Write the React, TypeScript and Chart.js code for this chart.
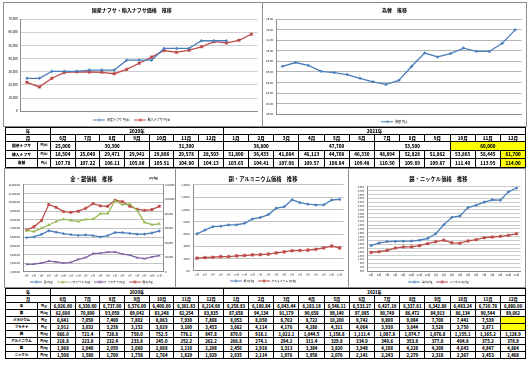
import React, { useEffect, useRef } from 'react';
import { Chart, registerables } from 'chart.js';

Chart.register(...registerables);

const FONT = '"Noto Sans CJK JP", "Noto Sans", sans-serif';

// ---------------- data ----------------
const chartMonths = ['5月', '6月', '7月', '8月', '9月', '10月', '11月', '12月', '1月', '2月', '3月', '4月', '5月', '6月', '7月', '8月', '9月', '10月', '11月'];
const tableMonths2020 = ['6月', '7月', '8月', '9月', '10月', '11月', '12月'];
const tableMonths2021 = ['1月', '2月', '3月', '4月', '5月', '6月', '7月', '8月', '9月', '10月', '11月', '12月'];
const yearLabels = ['2020年', '2021年'];

// chart series (5月 2020 - 11月 2021)
const domesticNaphthaChart = [25000, 25000, 30300, 30300, 30300, 31300, 31300, 31300, 38800, 38800, 38800, 47700, 47700, 47700, 53500, 53500, 53500, null, null];
const importedNaphthaChart = [22000, 18504, 25040, 29471, 29941, 29808, 29578, 28503, 31800, 36433, 41084, 46113, 44708, 46330, 48894, 52828, 51862, 53865, 58445];
const exchangeChart = [107.06, 107.78, 107.22, 106.11, 105.88, 105.51, 104.8, 104.13, 103.65, 104.41, 107.08, 109.57, 108.84, 109.48, 110.5, 109.89, 109.87, 111.4, 113.95];
const goldChart = [5960, 6026, 6330, 6737, 6576, 6400, 6301.83, 6214, 6258.83, 6180.84, 6043.44, 6183.18, 6546.11, 6533.27, 6427.1, 6337.61, 6342.8, 6483.24, 6710.78];
const palladiumChart = [6780, 6641, 7050, 7400, 7802, 8063, 7930, 7808, 8053, 8050, 8702, 8722, 10200, 9742, 9800, 9084, 7700, 7441, 7539];
const platinumChart = [2880, 2912, 3032, 3258, 3152, 3029, 3100, 3453, 3662, 4114, 4176, 4280, 4311, 4064, 3930, 3644, 3528, 3750, 3871];
const silverChart = [57900, 62600, 70800, 93059, 89042, 83248, 82254, 83835, 87658, 94134, 91179, 90658, 99140, 97085, 90748, 86472, 84913, 86134, 90544];
const copperChart = [605, 666, 721.4, 728.8, 750, 752.5, 776.1, 847.8, 870, 918.1, 1022.1, 1044.5, 1158.8, 1111.4, 1087.8, 1074.7, 1076.8, 1155.1, 1165.2];
const aluminumChart = [208, 218.8, 223.8, 232.4, 233.8, 245, 252.2, 262.2, 266.8, 274.1, 294.2, 311.4, 329.8, 334, 340.6, 353.8, 377, 404.8, 375.2];
const tinChart = [1830, 1968, 2040, 2050, 2060, 2068, 2110, 2208, 2450, 2918, 3313, 3384, 3820, 3948, 4108, 4228, 4208, 4643, 4847];
const nickelChart = [1470, 1508, 1580, 1700, 1758, 1764, 1829, 1929, 2035, 2114, 1976, 1958, 2076, 2141, 2243, 2279, 2318, 2367, 2453];

// table values (6月 2020 - 12月 2021)
const domesticNaphthaTable = [25000, 30300, 31300, 38800, 47700, 53500, 60000];
const domesticNaphthaSpans = [1, 3, 3, 3, 3, 3, 3];
const importedNaphthaTable = [18504, 25040, 29471, 29941, 29808, 29578, 28503, 31800, 36433, 41084, 46113, 44708, 46330, 48894, 52828, 51862, 53865, 58445, 61700];
const exchangeTable = [107.78, 107.22, 106.11, 105.88, 105.51, 104.8, 104.13, 103.65, 104.41, 107.08, 109.57, 108.84, 109.48, 110.5, 109.89, 109.87, 111.4, 113.95, 114.0];
const goldTable = [6026, 6330, 6737, 6576, 6400, 6301.83, 6214, 6258.83, 6180.84, 6043.44, 6183.18, 6546.11, 6533.27, 6427.1, 6337.61, 6342.8, 6483.24, 6710.78, 6880];
const silverTable = [62600, 70800, 93059, 89042, 83248, 82254, 83835, 87658, 94134, 91179, 90658, 99140, 97085, 90748, 86472, 84913, 86134, 90544, 89062];
const palladiumTable = [6641, 7050, 7400, 7802, 8063, 7930, 7808, 8053, 8050, 8702, 8722, 10200, 9742, 9800, 9084, 7700, 7441, 7539, null];
const platinumTable = [2912, 3032, 3258, 3152, 3029, 3100, 3453, 3662, 4114, 4176, 4280, 4311, 4064, 3930, 3644, 3528, 3750, 3871, null];
const copperTable = [666, 721.4, 728.8, 750, 752.5, 776.1, 847.8, 870, 918.1, 1022.1, 1044.5, 1158.8, 1111.4, 1087.8, 1074.7, 1076.8, 1155.1, 1165.2, 1128.9];
const aluminumTable = [218.8, 223.8, 232.4, 233.8, 245, 252.2, 262.2, 266.8, 274.1, 294.2, 311.4, 329.8, 334, 340.6, 353.8, 377, 404.8, 375.2, 378.9];
const tinTable = [1968, 2040, 2050, 2060, 2068, 2110, 2208, 2450, 2918, 3313, 3384, 3820, 3948, 4108, 4228, 4208, 4643, 4847, 4864];
const nickelTable = [1508, 1580, 1700, 1758, 1764, 1829, 1929, 2035, 2114, 1976, 1958, 2076, 2141, 2243, 2279, 2318, 2367, 2453, 2468];

// ---------------- styles ----------------
const BLUE = '#4a7ebb';
const RED = '#be4b48';
const GREEN = '#98b954';
const PURPLE = '#7d60a0';
const AXIS = '#8c8c8c';
const YELLOW = '#ffff00';

const fmt = (v: number, d: number) =>
  v.toLocaleString('en-US', { minimumFractionDigits: d, maximumFractionDigits: d });

interface AxisSpec { min: number; max: number; step: number; digits: number; font: number; pad: number; width: number; }
interface SeriesSpec { label: string; data: (number | null)[]; color: string; marker: string; r: number; axis?: string; }
interface ChartSpec {
  left: number; top: number; w: number; h: number; padL: number; padR: number;
  title: string; titleSize: number; titlePadT: number; titlePadB: number;
  xFont: number; xPad: number; xH: number;
  legendFont: number; legendPad: number; legendH: number;
  grid: string;
  y: AxisSpec; y1?: AxisSpec;
  series: SeriesSpec[];
}

const specs: ChartSpec[] = [
  {
    left: 3, top: 2, w: 260, h: 125, padL: 0.7, padR: 3,
    title: '国産ナフサ・輸入ナフサ価格　推移', titleSize: 5, titlePadT: 4, titlePadB: 6,
    xFont: 3, xPad: 2.6, xH: 2.2, legendFont: 3, legendPad: 5, legendH: 12.5,
    grid: '#d0d0d0',
    y: { min: 0, max: 70000, step: 10000, digits: 0, font: 3, pad: 3, width: 16 },
    series: [
      { label: '国産ナフサ 円/kl', data: domesticNaphthaChart, color: BLUE, marker: 'rectRot', r: 1.5 },
      { label: '輸入ナフサ 円/kl', data: importedNaphthaChart, color: RED, marker: 'rect', r: 1.8 },
    ],
  },
  {
    left: 262, top: 2, w: 265, h: 125, padL: 3, padR: 3,
    title: '為替　推移', titleSize: 5, titlePadT: 4, titlePadB: 6,
    xFont: 3, xPad: 2.6, xH: 0.9, legendFont: 3, legendPad: 5, legendH: 10.8,
    grid: '#b4b4b4',
    y: { min: 98, max: 116, step: 2, digits: 2, font: 2.7, pad: 3, width: 10 },
    series: [{ label: '為替 円/$', data: exchangeChart, color: BLUE, marker: 'rectRot', r: 1.5 }],
  },
  {
    left: 4, top: 168, w: 172, h: 120, padL: 3, padR: 0,
    title: '金・銀価格　推移', titleSize: 5.3, titlePadT: 6.8, titlePadB: 2.8,
    xFont: 2.6, xPad: 2.3, xH: 4.6, legendFont: 2.8, legendPad: 4, legendH: 10.4,
    grid: '#c4c4c4',
    y: { min: 2000, max: 12000, step: 1000, digits: 2, font: 2.6, pad: 3, width: 15 },
    y1: { min: 0, max: 120000, step: 20000, digits: 0, font: 2.6, pad: 2, width: 12 },
    series: [
      { label: '金 円/g', data: goldChart, color: BLUE, marker: 'rectRot', r: 1.4 },
      { label: 'パラジウム 円/g', data: palladiumChart, color: GREEN, marker: 'triangle', r: 1.5 },
      { label: 'プラチナ 円/g', data: platinumChart, color: PURPLE, marker: 'crossRot', r: 1.4 },
      { label: '銀 円/kg', data: silverChart, color: RED, marker: 'rect', r: 1.7, axis: 'y1' },
    ],
  },
  {
    left: 175, top: 168, w: 174, h: 120, padL: 4, padR: 2,
    title: '銅・アルミニウム価格　推移', titleSize: 5.3, titlePadT: 6.8, titlePadB: 2.8,
    xFont: 2.6, xPad: 2.3, xH: 4.6, legendFont: 2.8, legendPad: 4, legendH: 11.4,
    grid: '#c4c4c4',
    y: { min: 0, max: 1400, step: 200, digits: 1, font: 2.6, pad: 3, width: 13 },
    series: [
      { label: '銅 円/kg', data: copperChart, color: BLUE, marker: 'rectRot', r: 1.5 },
      { label: 'アルミニウム 円/kg', data: aluminumChart, color: RED, marker: 'rect', r: 1.9 },
    ],
  },
  {
    left: 348, top: 168, w: 178, h: 120, padL: 6, padR: 3,
    title: '錫・ニッケル価格　推移', titleSize: 5.3, titlePadT: 6.8, titlePadB: 4.8,
    xFont: 2.6, xPad: 2.3, xH: 5.6, legendFont: 2.8, legendPad: 4, legendH: 10.4,
    grid: '#cccccc',
    y: { min: 500, max: 4900, step: 200, digits: 0, font: 2.4, pad: 3, width: 12 },
    series: [
      { label: '錫 円/kg', data: tinChart, color: BLUE, marker: 'rectRot', r: 1.5 },
      { label: 'ニッケル 円/kg', data: nickelChart, color: RED, marker: 'rect', r: 1.8 },
    ],
  },
];

function drawMarker(ctx: CanvasRenderingContext2D, style: string, x: number, y: number, r: number, color: string) {
  ctx.fillStyle = color;
  ctx.strokeStyle = color;
  ctx.beginPath();
  if (style === 'rectRot') {
    ctx.moveTo(x, y - r); ctx.lineTo(x + r, y); ctx.lineTo(x, y + r); ctx.lineTo(x - r, y); ctx.closePath(); ctx.fill();
  } else if (style === 'rect') {
    ctx.fillRect(x - r * 0.8, y - r * 0.8, r * 1.6, r * 1.6);
  } else if (style === 'triangle') {
    ctx.moveTo(x, y - r); ctx.lineTo(x + r, y + r * 0.8); ctx.lineTo(x - r, y + r * 0.8); ctx.closePath(); ctx.fill();
  } else {
    ctx.lineWidth = 0.8;
    ctx.moveTo(x - r, y - r); ctx.lineTo(x + r, y + r); ctx.moveTo(x + r, y - r); ctx.lineTo(x - r, y + r); ctx.stroke();
  }
}

function legendImage(color: string, marker: string) {
  const c = document.createElement('canvas');
  c.width = 12; c.height = 5;
  const ctx = c.getContext('2d')!;
  ctx.strokeStyle = color; ctx.lineWidth = 1;
  ctx.beginPath(); ctx.moveTo(0, 2.5); ctx.lineTo(12, 2.5); ctx.stroke();
  drawMarker(ctx, marker, 6, 2.5, 1.5, color);
  return c;
}

function linearAxis(a: AxisSpec, position: string, grid: string, gridOn: boolean) {
  return {
    type: 'linear', position, min: a.min, max: a.max,
    grid: { color: grid, drawTicks: false, drawOnChartArea: gridOn, lineWidth: 1 },
    border: { display: true, color: AXIS, width: 1 },
    ticks: { stepSize: a.step, font: { size: a.font, family: FONT }, color: '#000', padding: a.pad, autoSkip: false, callback: (v: any) => fmt(Number(v), a.digits) },
    afterFit: (sc: any) => { sc.width = a.width; },
  };
}

function makeConfig(s: ChartSpec): any {
  const images = s.series.map((d) => legendImage(d.color, d.marker));
  const scales: any = {
    x: {
      offset: true,
      grid: { display: false, drawTicks: false },
      border: { display: true, color: AXIS, width: 1 },
      ticks: { font: { size: s.xFont, family: FONT }, color: '#000', padding: s.xPad, autoSkip: false, maxRotation: 0, minRotation: 0 },
      afterFit: (sc: any) => { sc.height = s.xH; },
    },
    y: linearAxis(s.y, 'left', s.grid, true),
  };
  if (s.y1) scales.y1 = linearAxis(s.y1, 'right', s.grid, false);
  return {
    type: 'line',
    data: {
      labels: chartMonths,
      datasets: s.series.map((d) => ({
        label: d.label, data: d.data, borderColor: d.color, backgroundColor: d.color,
        pointStyle: d.marker, pointRadius: d.r, pointBorderWidth: d.marker === 'crossRot' ? 1 : 0.4,
        borderWidth: 1.3, yAxisID: d.axis || 'y', tension: 0, spanGaps: false,
      })),
    },
    options: {
      responsive: false, animation: false, devicePixelRatio: 1, events: [],
      layout: { padding: { left: s.padL, right: s.padR, top: 0, bottom: 0 } },
      plugins: {
        title: { display: true, text: s.title, color: '#000', font: { size: s.titleSize, weight: 'bold', family: FONT }, padding: { top: s.titlePadT, bottom: s.titlePadB } },
        legend: {
          display: true, position: 'bottom', maxHeight: s.legendH,
          labels: {
            usePointStyle: true, pointStyleWidth: 12, padding: s.legendPad, color: '#000',
            font: { size: s.legendFont, family: FONT },
            generateLabels: (chart: any) => chart.data.datasets.map((ds: any, i: number) => ({
              text: ds.label, pointStyle: images[i], fillStyle: ds.borderColor, strokeStyle: ds.borderColor,
              lineWidth: 0, hidden: false, datasetIndex: i, fontColor: '#000',
            })),
          },
        },
        tooltip: { enabled: false },
      },
      scales,
    },
  };
}

// ---------------- tables ----------------
const BORDER = '1px solid #000';
const THICK = '1.5px solid #000';
const td = (extra?: React.CSSProperties): React.CSSProperties => ({
  border: BORDER, padding: 0, textAlign: 'center', verticalAlign: 'middle', whiteSpace: 'nowrap', overflow: 'hidden', ...extra,
});
const monthEdge = (i: number): React.CSSProperties => (i === 0 || i === tableMonths2020.length ? { borderLeft: THICK } : {});

function Cols() {
  return (
    <colgroup>
      <col style={{ width: 32 }} />
      <col style={{ width: 13 }} />
      {tableMonths2020.map((m) => <col key={'a' + m} style={{ width: 24.7 }} />)}
      {tableMonths2021.map((m) => <col key={'b' + m} style={{ width: 25.2 }} />)}
    </colgroup>
  );
}

function HeaderRows({ h }: { h: number }) {
  const months = [...tableMonths2020, ...tableMonths2021];
  return (
    <>
      <tr style={{ height: h }}>
        <td colSpan={2} style={td()}>年</td>
        <td colSpan={tableMonths2020.length} style={td({ borderLeft: THICK })}>{yearLabels[0]}</td>
        <td colSpan={tableMonths2021.length} style={td({ borderLeft: THICK })}>{yearLabels[1]}</td>
      </tr>
      <tr style={{ height: h }}>
        <td colSpan={2} style={td()}>月</td>
        {months.map((m, i) => <td key={i} style={td(monthEdge(i))}>{m}</td>)}
      </tr>
    </>
  );
}

const tableStyle = (top: number, height: number, size: number): React.CSSProperties => ({
  position: 'absolute', left: 5, top, width: 520, height, borderCollapse: 'collapse', tableLayout: 'fixed',
  fontFamily: FONT, fontSize: size, fontWeight: 900, lineHeight: 1, border: THICK, color: '#000',
});

function NaphthaTable() {
  const rh = 8.7;
  let col = 0;
  return (
    <table style={tableStyle(127, 40, 4.5)}>
      <Cols />
      <tbody>
        <HeaderRows h={7} />
        <tr style={{ height: rh }}>
          <td style={td({ fontSize: 3.8 })}>国産ナフサ</td>
          <td style={td({ fontSize: 3 })}>円/kl</td>
          {domesticNaphthaTable.map((v, i) => {
            const start = col; col += domesticNaphthaSpans[i];
            const last = i === domesticNaphthaTable.length - 1;
            return (
              <td key={i} colSpan={domesticNaphthaSpans[i]} style={td({ ...monthEdge(start), ...(last ? { background: YELLOW } : {}) })}>{fmt(v, 0)}</td>
            );
          })}
        </tr>
        <tr style={{ height: rh }}>
          <td style={td({ fontSize: 3.8 })}>輸入ナフサ</td>
          <td style={td({ fontSize: 3 })}>円/kl</td>
          {importedNaphthaTable.map((v, i) => (
            <td key={i} style={td({ ...monthEdge(i), ...(i === importedNaphthaTable.length - 1 ? { background: YELLOW } : {}) })}>{fmt(v, 0)}</td>
          ))}
        </tr>
        <tr style={{ height: rh }}>
          <td style={td({ fontSize: 3.8 })}>為替</td>
          <td style={td({ fontSize: 3 })}>円/$</td>
          {exchangeTable.map((v, i) => (
            <td key={i} style={td({ ...monthEdge(i), ...(i === exchangeTable.length - 1 ? { background: YELLOW } : {}) })}>{fmt(v, 2)}</td>
          ))}
        </tr>
      </tbody>
    </table>
  );
}

const metalRows = [
  { name: '金', unit: '円/g', values: goldTable, digits: 2, groupEnd: false },
  { name: '銀', unit: '円/kg', values: silverTable, digits: 0, groupEnd: true },
  { name: 'パラジウム', unit: '円/g', values: palladiumTable, digits: 0, groupEnd: false },
  { name: 'プラチナ', unit: '円/g', values: platinumTable, digits: 0, groupEnd: true },
  { name: '銅', unit: '円/kg', values: copperTable, digits: 1, groupEnd: false },
  { name: 'アルミニウム', unit: '円/kg', values: aluminumTable, digits: 1, groupEnd: true },
  { name: '錫', unit: '円/kg', values: tinTable, digits: 0, groupEnd: false },
  { name: 'ニッケル', unit: '円/kg', values: nickelTable, digits: 0, groupEnd: false },
];

function MetalTable() {
  return (
    <table style={tableStyle(288, 70, 4.2)}>
      <Cols />
      <tbody>
        <HeaderRows h={7} />
        {metalRows.map((r) => {
          const rowEdge: React.CSSProperties = r.groupEnd ? { borderBottom: THICK } : {};
          return (
            <tr key={r.name} style={{ height: 7 }}>
              <td style={td({ fontSize: 3.4, ...rowEdge })}>{r.name}</td>
              <td style={td({ fontSize: 2.9, ...rowEdge })}>{r.unit}</td>
              {r.values.map((v, i) => (
                <td key={i} style={td({ ...monthEdge(i), ...rowEdge, ...(v == null ? { background: YELLOW } : {}) })}>
                  {v == null ? '' : fmt(v, r.digits)}
                </td>
              ))}
            </tr>
          );
        })}
      </tbody>
    </table>
  );
}

// ---------------- app ----------------
export default function App() {
  const refs = useRef<(HTMLCanvasElement | null)[]>([]);

  useEffect(() => {
    Chart.defaults.font.family = FONT;
    Chart.defaults.color = '#000';
    const charts = specs.map((s, i) => new Chart(refs.current[i] as HTMLCanvasElement, makeConfig(s)));
    return () => charts.forEach((c) => c.destroy());
  }, []);

  return (
    <div style={{ position: 'absolute', left: 0, top: 0, width: 529, height: 365, background: '#fff', overflow: 'hidden', fontFamily: FONT }}>
      {specs.map((s, i) => (
        <div key={i} style={{ position: 'absolute', left: s.left, top: s.top, width: s.w, height: s.h, border: '1px solid ' + AXIS, boxSizing: 'border-box' }}>
          <canvas
            ref={(el) => { refs.current[i] = el; }}
            width={s.w - 2}
            height={s.h - 2}
            style={{ position: 'absolute', left: 0, top: 0, width: s.w - 2, height: s.h - 2 }}
          />
        </div>
      ))}
      <span style={{ position: 'absolute', left: 149, top: 176.5, fontSize: 2.8, lineHeight: 1, fontWeight: 'bold', whiteSpace: 'nowrap' }}>(円/kg)</span>
      <NaphthaTable />
      <MetalTable />
    </div>
  );
}
